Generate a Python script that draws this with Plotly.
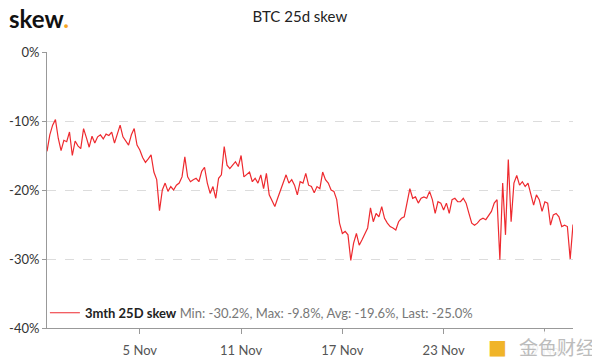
import pandas as pd
import plotly.graph_objects as go

# 4-hourly samples of 3mth 25D skew (%), starting 30 Oct 12:00
start_time = "2020-10-30 12:00"
step_hours = 4
skew_values = [
    -14.4, -12.0, -10.6, -9.8, -12.5, -14.3, -12.8, -13.0, -11.6, -15.0,
    -12.9, -13.6, -14.0, -11.1, -12.4, -13.8, -12.2, -13.2, -12.3, -12.0,
    -12.6, -11.9, -12.1, -11.6, -13.2, -12.0, -10.6, -12.3, -12.9, -13.5,
    -12.0, -11.1, -13.5, -14.2, -15.3, -16.0, -15.5, -14.9, -17.4, -18.5,
    -23.0, -20.0, -19.0, -20.2, -19.5, -20.0, -19.3, -19.0, -18.1, -15.2,
    -18.1, -18.8, -18.5, -18.3, -18.8, -17.3, -16.7, -19.0, -20.5, -19.5,
    -21.2, -18.3, -17.8, -13.7, -16.4, -16.9, -16.4, -15.9, -16.6, -15.0,
    -18.1, -17.8, -17.4, -18.8, -18.3, -19.0, -17.8, -19.8, -17.6, -20.7,
    -21.5, -22.4, -21.2, -20.0, -19.0, -17.8, -19.0, -18.5, -19.3, -20.7,
    -18.8, -19.0, -17.6, -19.3, -19.5, -20.4, -19.5, -19.8, -17.4, -18.5,
    -19.0, -20.0, -20.2, -21.4, -24.8, -26.3, -26.0, -26.5, -30.2, -27.7,
    -26.3, -28.0, -27.2, -26.3, -25.5, -22.6, -24.6, -23.4, -23.9, -22.4,
    -24.1, -24.8, -25.3, -25.5, -25.8, -24.6, -24.1, -23.9, -21.7, -19.8,
    -21.2, -21.0, -21.9, -21.2, -21.0, -21.2, -20.2, -21.4, -23.4, -21.7,
    -21.9, -22.9, -21.9, -23.4, -21.4, -21.2, -21.7, -21.7, -21.2, -21.9,
    -23.4, -24.8, -25.1, -24.8, -24.3, -24.1, -24.3, -23.6, -23.1, -21.9,
    -21.4, -30.1, -19.0, -26.5, -15.6, -24.6, -19.0, -17.9, -19.3, -18.8,
    -19.5, -19.0, -20.5, -22.2, -20.7, -21.4, -23.1, -21.7, -21.9, -25.1,
    -23.6, -23.4, -23.9, -25.3, -25.1, -25.3, -30.0, -25.0,
]
y_ticks = [0, -10, -20, -30, -40]
y_tick_labels = ["0%", "-10%", "-20%", "-30%", "-40%"]
x_tick_dates = ["2020-11-05", "2020-11-11", "2020-11-17", "2020-11-23", "2020-11-29"]
x_tick_labels = ["5 Nov", "11 Nov", "17 Nov", "23 Nov", "29 Nov"]
series_name = "3mth 25D skew"
stats_text = "Min: -30.2%, Max: -9.8%, Avg: -19.6%, Last: -25.0%"

times = pd.date_range(start=start_time, periods=len(skew_values), freq=f"{step_hours}h")

fig = go.Figure()
fig.add_trace(go.Scatter(
    x=times, y=skew_values, mode="lines",
    line=dict(color="#ee2a2f", width=1.2),
    name=f"<b>{series_name}</b> <span style='color:#777'>{stats_text}</span>",
    showlegend=True,
))

fig.update_layout(
    width=592, height=356,
    margin=dict(l=39, r=27, t=44, b=36, autoexpand=False),
    paper_bgcolor="white", plot_bgcolor="white",
    font=dict(family="Lato, 'Open Sans', sans-serif", size=13, color="#333"),
    title=dict(text="BTC 25d skew", x=0.493, xanchor="center", y=0.975, yanchor="middle",
               font=dict(size=15, color="#222")),
    showlegend=True,
    legend=dict(x=-0.004, y=0.055, xanchor="left", yanchor="middle",
                bgcolor="rgba(0,0,0,0)", font=dict(size=13, color="#222")),
    xaxis=dict(
        range=[times[0], times[-1]],
        tickvals=pd.to_datetime(x_tick_dates), ticktext=x_tick_labels,
        showline=True, linecolor="#999", linewidth=1,
        ticks="outside", ticklen=5, tickcolor="#999",
        ticklabelstandoff=5, automargin=False,
        showgrid=False, zeroline=False,
        tickfont=dict(size=13, color="#555"),
    ),
    yaxis=dict(
        range=[-40, 0], tickvals=y_ticks, ticktext=y_tick_labels,
        showline=True, linecolor="#999", linewidth=1,
        ticks="outside", ticklen=4, tickcolor="#999", automargin=False,
        showgrid=True, gridcolor="#dcdcdc", griddash="dash", gridwidth=1,
        zeroline=False,
        tickfont=dict(size=13, color="#333"),
    ),
)

fig.add_annotation(
    text="<b>skew</b><span style='color:#f5a623'><b>.</b></span>",
    xref="paper", yref="paper", x=-0.076, y=1.12, xanchor="left", yanchor="middle",
    showarrow=False, font=dict(family="Lato, sans-serif", size=24, color="#111"),
)

fig.add_annotation(
    text="金色财经", xref="paper", yref="paper", x=1.045, y=-0.068,
    xanchor="right", yanchor="middle", showarrow=False,
    font=dict(family="Noto Sans CJK SC", size=19, color="#bcbcbc"),
    bgcolor="rgba(255,255,255,0.9)",
)
fig.add_annotation(
    text="■", xref="paper", yref="paper", x=0.857, y=-0.068,
    xanchor="center", yanchor="middle", showarrow=False,
    font=dict(family="DejaVu Sans", size=20, color="#f0b429"),
)

fig.write_html("out.html")
